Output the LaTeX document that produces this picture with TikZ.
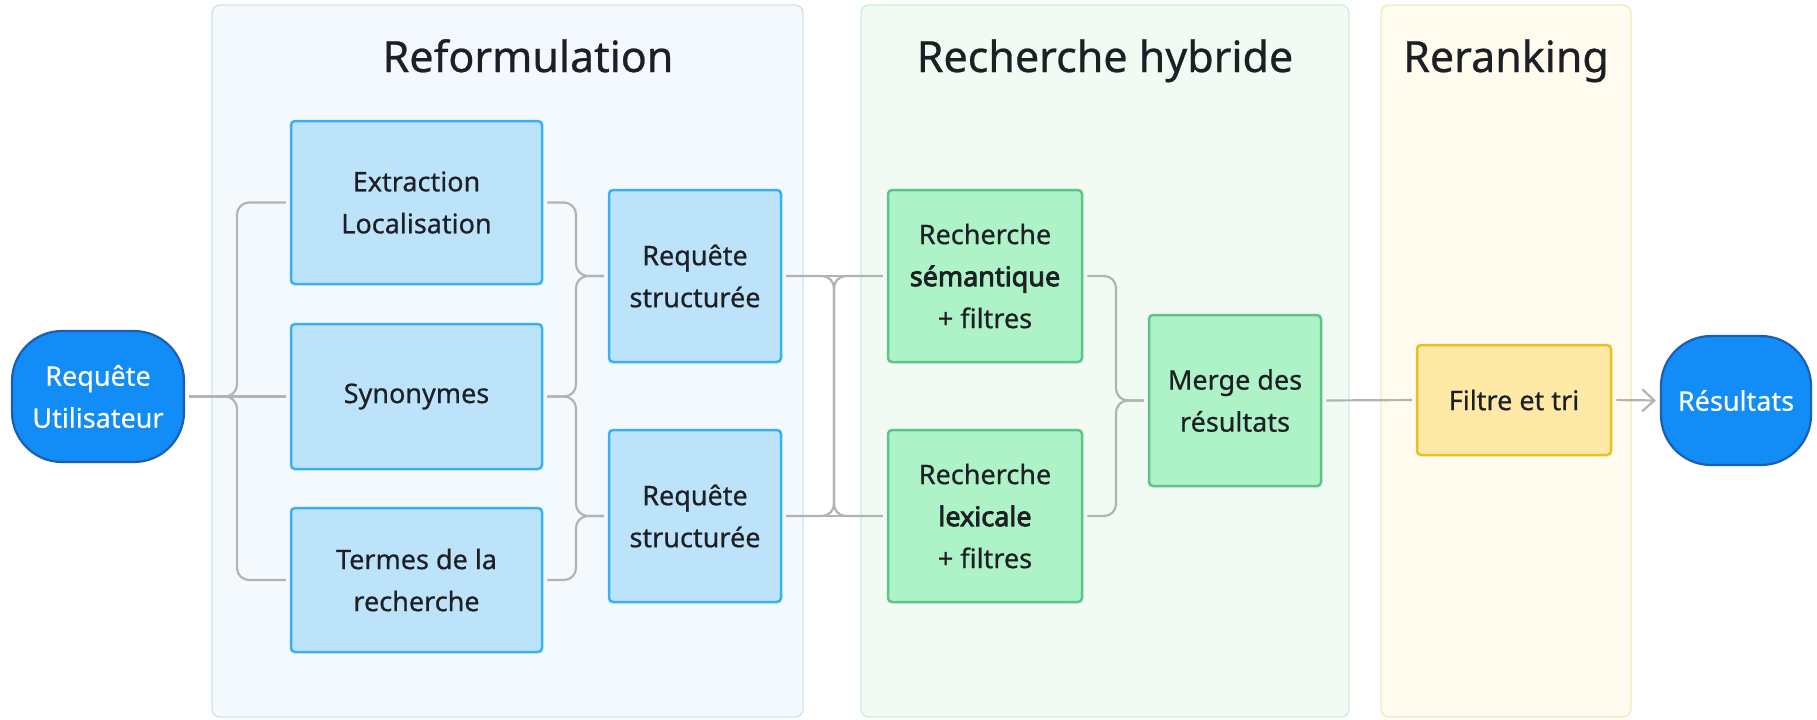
\documentclass[tikz,border=0pt]{standalone}
\usepackage{fontspec}
\setmainfont{Noto Sans}[AutoFakeBold=3]
\usetikzlibrary{arrows.meta}
\definecolor{panelAfill}{HTML}{F4F9FD}
\definecolor{panelAdraw}{HTML}{CFE3EF}
\definecolor{panelBfill}{HTML}{F1FBF4}
\definecolor{panelBdraw}{HTML}{CDEED9}
\definecolor{panelCfill}{HTML}{FFFCEF}
\definecolor{panelCdraw}{HTML}{F4E8BC}
\definecolor{bluefill}{HTML}{BDE3FB}
\definecolor{bluedraw}{HTML}{38B0F2}
\definecolor{greenfill}{HTML}{AEF2C8}
\definecolor{greendraw}{HTML}{5DC389}
\definecolor{yellowfill}{HTML}{FEE9A6}
\definecolor{yellowdraw}{HTML}{E2C31C}
\definecolor{pillfill}{HTML}{128CF7}
\definecolor{pilldraw}{HTML}{1B5EB5}
\definecolor{edgegray}{HTML}{B3B3B3}
\definecolor{textdark}{HTML}{1C1F24}
\tikzset{
  panel/.style={rounded corners=4pt, line width=0.7pt},
  paneltitle/.style={anchor=base, text=textdark, font=\fontsize{21.5pt}{26pt}\selectfont\addfontfeatures{FakeBold=0.6}},
  boxbase/.style={rectangle, rounded corners=2pt, line width=1.25pt, align=center,
    text=textdark, font=\fontsize{13.5pt}{21pt}\selectfont\addfontfeatures{FakeBold=0.6}, inner sep=0pt},
  bluebox/.style={boxbase, fill=bluefill, draw=bluedraw},
  greenbox/.style={boxbase, fill=greenfill, draw=greendraw},
  yellowbox/.style={boxbase, fill=yellowfill, draw=yellowdraw},
  pill/.style={rectangle, rounded corners=25pt, line width=1.1pt, align=center,
    fill=pillfill, draw=pilldraw, text=white, font=\fontsize{13.5pt}{21pt}\selectfont\addfontfeatures{FakeBold=0.4}, inner sep=0pt},
  edge/.style={draw=edgegray, line width=1.1pt, rounded corners=6pt, shorten <=2pt, shorten >=2pt},
  arrowedge/.style={edge, -{Straight Barb[length=6pt, width=11pt, line width=1.1pt]}}
}
\newcommand{\heavyword}[1]{{\addfontfeatures{FakeBold=3}#1}}
\begin{document}
\begin{tikzpicture}[x=0.5pt, y=-0.5pt]
\path[use as bounding box, fill=white] (0,0) rectangle (1817,719);
% panels
\draw[panel, fill=panelAfill, draw=panelAdraw] (212,5) rectangle (803,717);
\draw[panel, fill=panelBfill, draw=panelBdraw] (861,5) rectangle (1349,717);
\draw[panel, fill=panelCfill, draw=panelCdraw] (1381,5) rectangle (1631,717);
\node[paneltitle] (t1) at (528,72) {Reformulation};
\node[paneltitle] (t2) at (1105,72) {Recherche hybride};
\node[paneltitle] (t3) at (1506,72) {Reranking};
% nodes
\node[pill, minimum width=86pt, minimum height=65.5pt] (U) at (98,396.5) {Requête\\Utilisateur};
\node[bluebox, minimum width=125.5pt, minimum height=81.5pt] (E) at (416.5,202.5) {Extraction\\Localisation};
\node[bluebox, minimum width=125.5pt, minimum height=72.5pt] (S) at (416.5,396.5) {Synonymes};
\node[bluebox, minimum width=125.5pt, minimum height=72pt] (T) at (416.5,580) {Termes de la\\recherche};
\node[bluebox, minimum width=86pt, minimum height=86pt] (R1) at (695,276) {Requête\\structurée};
\node[bluebox, minimum width=86pt, minimum height=86pt] (R2) at (695,516) {Requête\\structurée};
\node[greenbox, minimum width=97pt, minimum height=86pt] (Sem) at (985,276) {Recherche\\\heavyword{sémantique}\\+ filtres};
\node[greenbox, minimum width=97pt, minimum height=86pt] (Lex) at (985,516) {Recherche\\\heavyword{lexicale}\\+ filtres};
\node[greenbox, minimum width=86pt, minimum height=85.5pt] (M) at (1235,400.5) {Merge des\\résultats};
\node[yellowbox, minimum width=97pt, minimum height=55pt] (F) at (1514,400) {Filtre et tri};
\node[pill, minimum width=75pt, minimum height=64.5pt] (Res) at (1736,400.5) {Résultats};
% bend columns
\coordinate (xL) at (237,0);
\coordinate (xR) at (576,0);
\coordinate (xX) at (834,0);
\coordinate (xM) at (1116,0);
% edges
\draw[edge] (U.east) -- (xL |- U.east) -- (xL |- E.west) -- (E.west);
\draw[edge] (U.east) -- (S.west);
\draw[edge] (U.east) -- (xL |- U.east) -- (xL |- T.west) -- (T.west);
\draw[edge] (E.east) -- (xR |- E.east) -- (xR |- R1.west) -- (R1.west);
\draw[edge] (S.east) -- (xR |- S.east) -- (xR |- R1.west) -- (R1.west);
\draw[edge] (S.east) -- (xR |- S.east) -- (xR |- R2.west) -- (R2.west);
\draw[edge] (T.east) -- (xR |- T.east) -- (xR |- R2.west) -- (R2.west);
\draw[edge] (R1.east) -- (Sem.west);
\draw[edge] (R2.east) -- (Lex.west);
\draw[edge] (R1.east) -- (xX |- R1.east) -- (xX |- Lex.west) -- (Lex.west);
\draw[edge] (R2.east) -- (xX |- R2.east) -- (xX |- Sem.west) -- (Sem.west);
\draw[edge] (Sem.east) -- (xM |- Sem.east) -- (xM |- M.west) -- (M.west);
\draw[edge] (Lex.east) -- (xM |- Lex.east) -- (xM |- M.west) -- (M.west);
\draw[edge] (M.east) -- (F.west);
\draw[arrowedge] (F.east) -- (Res.west);
\end{tikzpicture}
\end{document}
